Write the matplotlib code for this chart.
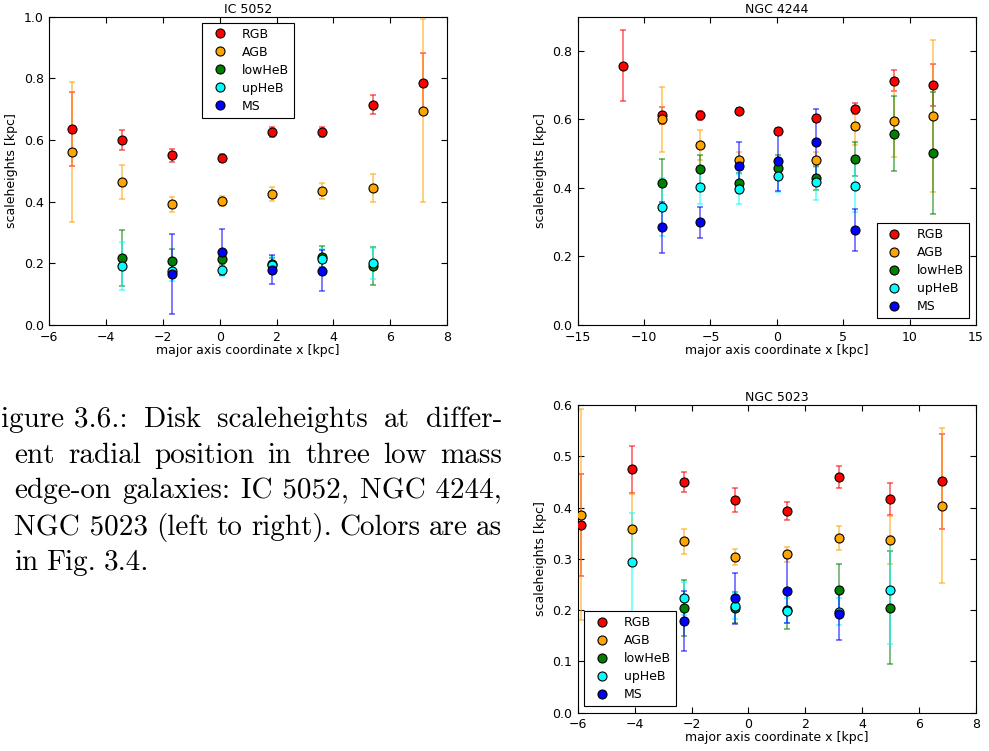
import numpy as np
import matplotlib
matplotlib.use("Agg")
import matplotlib.pyplot as plt
from matplotlib.lines import Line2D

nan = np.nan

# IC 5052
ic_x = [-5.2, -3.43, -1.68, 0.09, 1.85, 3.6, 5.38, 7.14]
ic_rgb = [0.635, 0.599, 0.550, 0.542, 0.627, 0.626, 0.715, 0.786]
ic_rgb_err = [0.12, 0.032, 0.02, 0.012, 0.016, 0.017, 0.03, 0.095]
ic_agb = [0.562, 0.464, 0.391, 0.402, 0.425, 0.434, 0.445, 0.695]
ic_agb_err = [0.227, 0.055, 0.023, 0.017, 0.024, 0.026, 0.046, 0.297]
ic_low = [nan, 0.217, 0.206, 0.213, 0.197, 0.222, 0.192, nan]
ic_low_err = [nan, 0.091, 0.04, 0.02, 0.02, 0.035, 0.061, nan]
ic_up = [nan, 0.192, 0.175, 0.18, 0.195, 0.215, 0.2, nan]
ic_up_err = [nan, 0.077, 0.033, 0.02, 0.03, 0.03, 0.05, nan]
ic_ms = [nan, nan, 0.165, 0.237, 0.18, 0.176, nan, nan]
ic_ms_err = [nan, nan, 0.13, 0.076, 0.046, 0.067, nan, nan]

# NGC 4244
n44_x = [-11.6, -8.67, -5.76, -2.85, 0.06, 2.97, 5.9, 8.83, 11.74]
n44_rgb = [0.757, 0.612, 0.612, 0.626, 0.565, 0.604, 0.632, 0.713, 0.70]
n44_rgb_err = [0.103, 0.025, 0.013, 0.008, 0.01, 0.01, 0.015, 0.031, 0.061]
n44_agb = [nan, 0.60, 0.526, 0.482, nan, 0.482, 0.58, 0.596, 0.61]
n44_agb_err = [nan, 0.096, 0.044, 0.022, nan, 0.022, 0.055, 0.107, 0.222]
n44_low = [nan, 0.415, 0.454, 0.414, 0.459, 0.429, 0.485, 0.559, 0.502]
n44_low_err = [nan, 0.07, 0.043, 0.03, 0.037, 0.035, 0.05, 0.109, 0.177]
n44_up = [nan, 0.344, 0.402, 0.397, 0.434, 0.416, 0.406, nan, nan]
n44_up_err = [nan, 0.085, 0.05, 0.043, 0.045, 0.05, 0.076, nan, nan]
n44_ms = [nan, 0.285, 0.30, 0.463, 0.478, 0.534, 0.278, nan, nan]
n44_ms_err = [nan, 0.075, 0.045, 0.072, 0.088, 0.097, 0.062, nan, nan]

# NGC 5023
n23_x = [-5.89, -4.08, -2.28, -0.46, 1.35, 3.17, 4.98, 6.81]
n23_rgb = [0.366, 0.475, 0.45, 0.415, 0.393, 0.46, 0.417, 0.451]
n23_rgb_err = [0.1, 0.046, 0.02, 0.023, 0.018, 0.021, 0.031, 0.092]
n23_agb = [0.386, 0.359, 0.334, 0.304, 0.309, 0.341, 0.337, 0.404]
n23_agb_err = [0.206, 0.067, 0.025, 0.016, 0.015, 0.024, 0.047, 0.151]
n23_low = [nan, nan, 0.204, 0.205, 0.2, 0.24, 0.205, nan]
n23_low_err = [nan, nan, 0.055, 0.03, 0.037, 0.049, 0.11, nan]
n23_up = [nan, 0.293, 0.223, 0.208, 0.199, 0.197, 0.239, nan]
n23_up_err = [nan, 0.096, 0.032, 0.025, 0.024, 0.026, 0.105, nan]
n23_ms = [nan, nan, 0.179, 0.223, 0.238, 0.192, nan, nan]
n23_ms_err = [nan, nan, 0.059, 0.05, 0.064, 0.05, nan, nan]

labels = ["RGB", "AGB", "lowHeB", "upHeB", "MS"]
colors = ["#ff0000", "#ffa500", "#008000", "#00ffff", "#0000ff"]

W, H = 989, 751
fig = plt.figure(figsize=(W / 100, H / 100), dpi=100)


def px_axes(l, t, r, b):
    return fig.add_axes([l / W, 1 - b / H, (r - l) / W, (b - t) / H])


def panel(ax, x, series, errs, title, xlim, ylim, xticks, yticks, leg_loc, leg_anchor):
    for y, e, c in zip(series, errs, colors):
        ax.errorbar(x, y, yerr=e, fmt="none", ecolor=c, elinewidth=1.1,
                    capsize=2, capthick=1.1, alpha=0.65, zorder=2)
        ax.plot(x, y, "o", color=c, markeredgecolor="black",
                markeredgewidth=0.8, markersize=6.5, zorder=3)
    ax.set_xlim(*xlim)
    ax.set_ylim(*ylim)
    ax.set_xticks(xticks)
    ax.set_yticks(yticks)
    ax.tick_params(direction="in", top=True, right=True, labelsize=9,
                   length=4, width=0.8, pad=4)
    for s in ax.spines.values():
        s.set_linewidth(0.8)
    ax.set_title(title, fontsize=9, pad=3)
    ax.set_xlabel("major axis coordinate x [kpc]", fontsize=9, labelpad=0)
    ax.set_ylabel("scaleheights [kpc]", fontsize=9, labelpad=4)
    handles = [Line2D([], [], ls="none", marker="o", color=c,
                      markeredgecolor="black", markeredgewidth=0.8,
                      markersize=6.5) for c in colors]
    leg = ax.legend(handles, labels, loc=leg_loc, bbox_to_anchor=leg_anchor,
                    borderaxespad=0, fontsize=9, numpoints=1, fancybox=False,
                    framealpha=1, edgecolor="black", labelspacing=0.4,
                    handlelength=2.0, handletextpad=0.8, borderpad=0.4)
    leg.get_frame().set_linewidth(0.8)


ax1 = px_axes(49.3, 16.7, 447, 325)
panel(ax1, ic_x, [ic_rgb, ic_agb, ic_low, ic_up, ic_ms],
      [ic_rgb_err, ic_agb_err, ic_low_err, ic_up_err, ic_ms_err],
      "IC 5052", (-6, 8), (0, 1.0), range(-6, 9, 2),
      np.arange(0, 1.01, 0.2), "upper left", (0.384, 0.98))

ax2 = px_axes(577.7, 16.7, 976, 325)
panel(ax2, n44_x, [n44_rgb, n44_agb, n44_low, n44_up, n44_ms],
      [n44_rgb_err, n44_agb_err, n44_low_err, n44_up_err, n44_ms_err],
      "NGC 4244", (-15, 15), (0, 0.9), range(-15, 16, 5),
      np.arange(0, 0.81, 0.2), "lower right", (0.982, 0.023))

ax3 = px_axes(577.7, 405, 976, 712.7)
panel(ax3, n23_x, [n23_rgb, n23_agb, n23_low, n23_up, n23_ms],
      [n23_rgb_err, n23_agb_err, n23_low_err, n23_up_err, n23_ms_err],
      "NGC 5023", (-6, 8), (0, 0.6), range(-6, 9, 2),
      np.arange(0, 0.61, 0.1), "lower left", (0.016, 0.022))

# caption, justified line by line
caption_lines = [
    (["Figure 3.6.:", "Disk", "scaleheights", "at", "differ-"], -18, 427, True),
    (["ent", "radial", "position", "in", "three", "low", "mass"], 14, 463, True),
    (["edge-on", "galaxies:", "IC 5052,", "NGC 4244,"], 14, 498, True),
    (["NGC 5023", "(left", "to", "right).", "Colors", "are", "as"], 14, 535, True),
    (["in", "Fig.", "3.4."], 14, 570, False),
]
x_right = 502
renderer = fig.canvas.get_renderer()
for words, x0, yb, justify in caption_lines:
    texts = [fig.text(0, 1 - yb / H, w, fontsize=21, family="cmr10",
                      va="baseline", ha="left") for w in words]
    widths = [t.get_window_extent(renderer).width for t in texts]
    if justify:
        gap = (x_right - x0 - sum(widths)) / (len(words) - 1)
    else:
        gap = 8
    x = x0
    for t, w in zip(texts, widths):
        t.set_x(x / W)
        x += w + gap

fig.savefig("out.png", dpi=100)
